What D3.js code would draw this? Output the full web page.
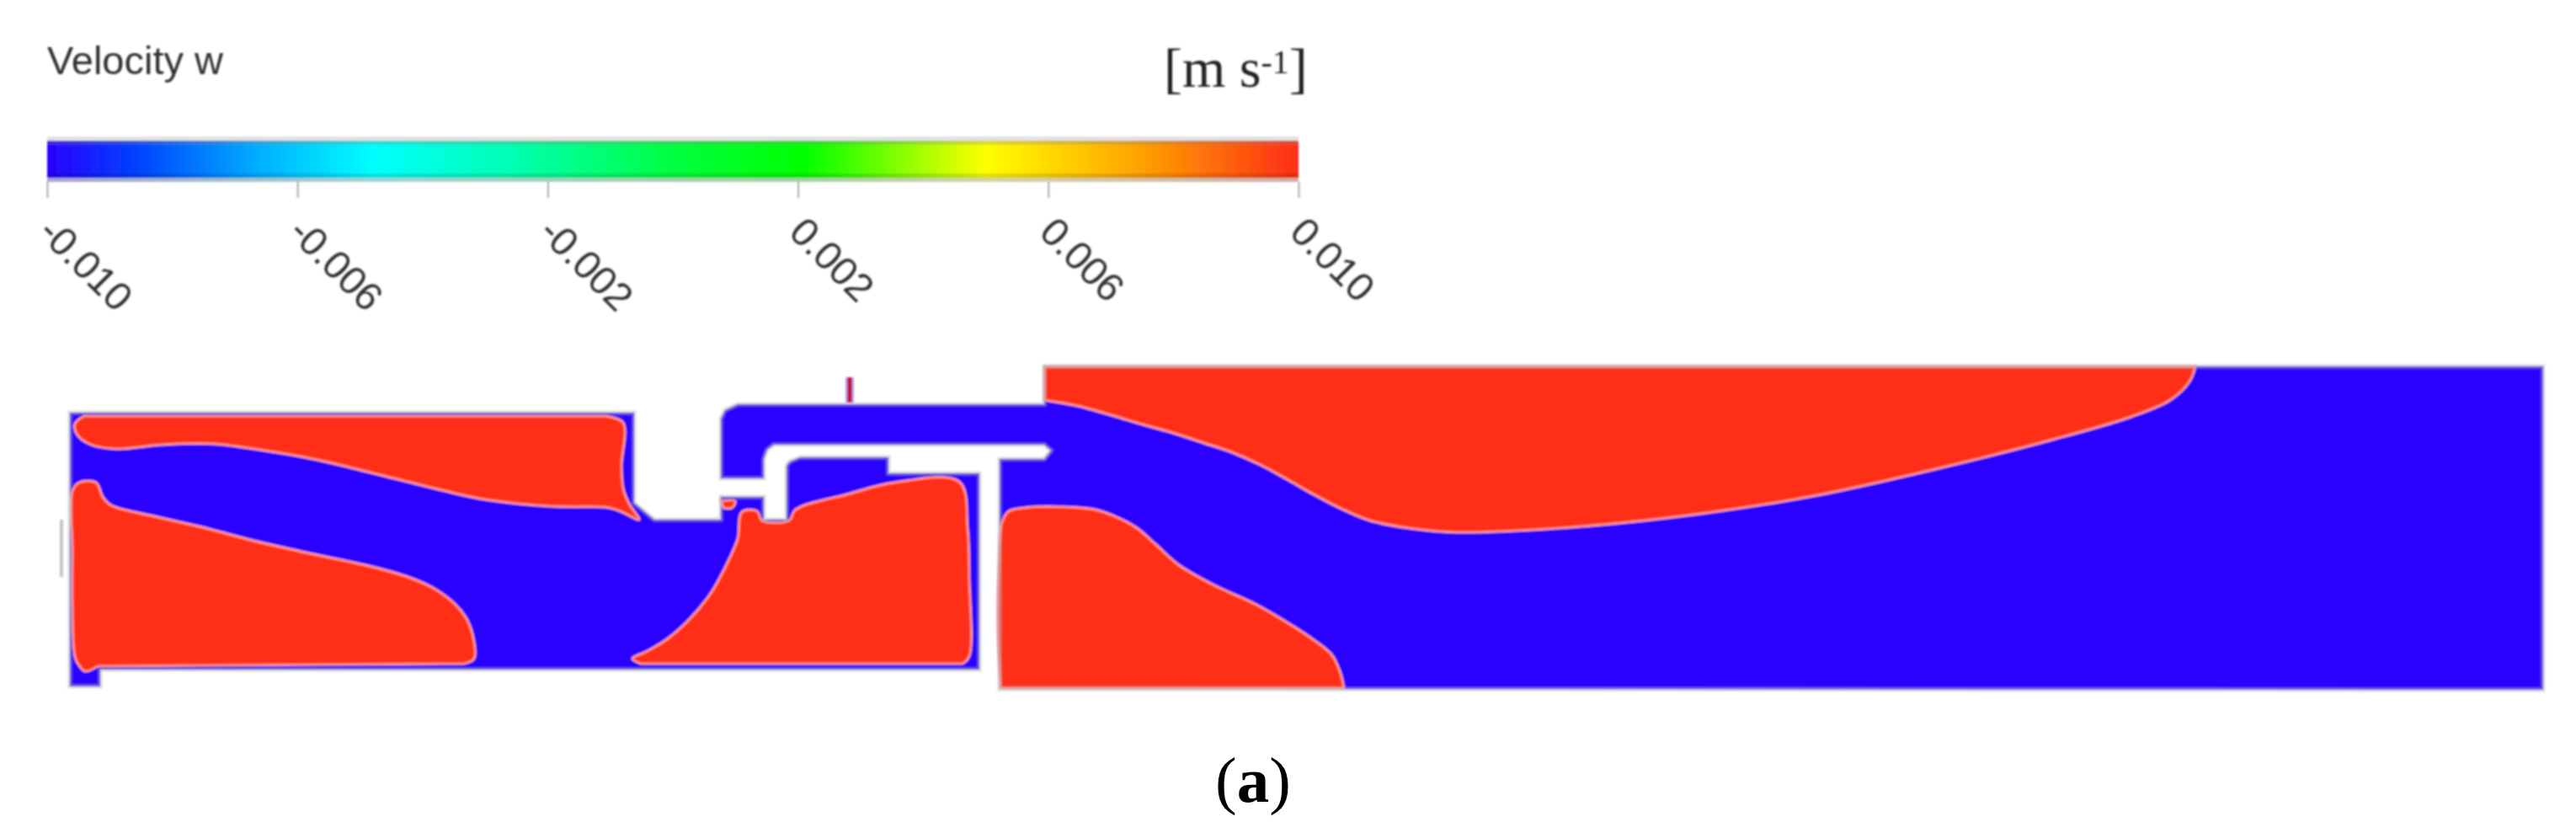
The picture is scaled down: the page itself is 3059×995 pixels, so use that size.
<!DOCTYPE html>
<html><head><meta charset="utf-8">
<script src="https://cdn.jsdelivr.net/npm/d3@7/dist/d3.min.js"></script>
<style>html,body{margin:0;background:#fff;overflow:hidden}svg{display:block}</style>
</head><body>
<script>
const barTicks=[-0.010,-0.006,-0.002,0.002,0.006,0.010];
const barStops=[[-0.010,"#2a00ff"],[-0.0086,"#0040ff"],[-0.0066,"#00b0ff"],[-0.0048,"#00ffff"],[-0.0025,"#00ffb0"],[0,"#00ff40"],[0.0021,"#00ff00"],[0.005,"#ffff00"],[0.0075,"#ffa000"],[0.010,"#ff2d16"]];
const fluidLower=[[0,329],[670,329],[670,222],[694,202],[773,202],[773,229],[824,229],[824,202],[851,202],[851,266],[855,271],[867,276],[972,276],[972,257],[1080,257],[1080,24],[36,24],[36,4],[0,4]];
const fluidUpper=[[773,251],[773,322],[778,332],[793,339],[1157,339],[1157,384],[2937,384],[2937,0],[1104,1],[1104,274],[1157,274],[1165,284],[1157,291],[836,291],[828,285],[824,274],[824,251]];
const zoneA=[[636,325],[657,317],[655,266],[657,239],[664,221],[676,202],[656,211],[641,216],[569,218],[493,226],[442,237],[365,256],[289,274],[212,287],[171,292],[110,291],[54,286],[23,292],[8,304],[6,316],[17,325]];
const zoneB=[[33,28],[18,22],[11,29],[6,39],[3,99],[3,166],[3,236],[11,246],[31,246],[39,229],[49,219],[100,206],[161,192],[222,176],[289,161],[355,147],[401,134],[431,121],[457,102],[470,86],[478,66],[480,37],[467,31]];
const zoneC=[[678,31],[668,37],[686,46],[709,60],[737,85],[762,116],[780,149],[793,179],[798,211],[816,212],[822,201],[854,201],[862,214],[923,232],[979,246],[1056,247],[1066,192],[1068,132],[1068,40],[1060,31]];
const zoneD=[[1513,2],[1508,22],[1498,42],[1473,62],[1437,85],[1407,102],[1357,125],[1317,148],[1290,172],[1267,192],[1243,205],[1217,214],[1183,217],[1133,216],[1115,212],[1107,199],[1103,149],[1102,66],[1105,2]];
const zoneE=[[1157,344],[1197,337],[1237,326],[1274,315],[1310,305],[1347,293],[1380,282],[1414,267],[1447,249],[1477,232],[1510,215],[1544,201],[1597,191],[1647,187],[1796,194],[1936,209],[2075,231],[2215,262],[2354,297],[2447,324],[2494,344],[2517,366],[2524,384]];
const wallE=[[1157,384]];
const zoneSpot=[[773,224],[790,224],[786,216],[776,216]];
const probe=[[926,341],[926,371]];
const wallStub=[[-10,202],[-10,134]];

const W=3059,H=995;
const svg=d3.select("body").append("svg").attr("width",W).attr("height",H).style("font-family","'Liberation Sans'");
const defs=svg.append("defs");
defs.append("filter").attr("id","soft").attr("x","-5%").attr("y","-5%").attr("width","110%").attr("height","110%")
  .append("feGaussianBlur").attr("stdDeviation",1.3);
const xBar=d3.scaleLinear().domain([-0.010,0.010]).range([56,1542]);
const grad=defs.append("linearGradient").attr("id","bar");
grad.selectAll("stop").data(barStops).join("stop")
  .attr("offset",d=>((xBar(d[0])-56)/1486*100)+"%").attr("stop-color",d=>d[1]);

const root=svg.append("g").attr("filter","url(#soft)");
// title
root.append("text").attr("x",56).attr("y",88).attr("font-size",47).attr("fill","#333").text("Velocity w");
const unit=root.append("text").attr("x",1382).attr("y",103).attr("font-size",66).attr("fill","#222").style("font-family","'Liberation Serif'");
unit.append("tspan").text("[m s");
unit.append("tspan").attr("font-size",40).attr("dy",-16).text("-1");
unit.append("tspan").attr("dy",16).text("]");
// colour bar
root.append("rect").attr("x",56).attr("y",167).attr("width",1486).attr("height",44).attr("fill","url(#bar)");
root.append("rect").attr("x",56).attr("y",162).attr("width",1486).attr("height",5).attr("fill","#e2e2e2");
root.append("rect").attr("x",56).attr("y",167).attr("width",1486).attr("height",5).attr("fill","#888").attr("opacity",.3);
root.append("rect").attr("x",56).attr("y",206).attr("width",1486).attr("height",5).attr("fill","#000").attr("opacity",.12);
root.append("rect").attr("x",56).attr("y",211).attr("width",1486).attr("height",5).attr("fill","url(#bar)").attr("opacity",.4);
root.append("rect").attr("x",56).attr("y",211).attr("width",1486).attr("height",5).attr("fill","#aaa").attr("opacity",.5);
const axis=root.append("g").attr("transform","translate(0,216)")
  .call(d3.axisBottom(xBar).tickValues(barTicks).tickFormat(d3.format(".3f")).tickSize(19).tickSizeOuter(0));
axis.select(".domain").remove();
axis.selectAll("line").attr("stroke","#aaa").attr("stroke-width",2);
axis.selectAll("text").attr("font-size",47).attr("fill","#333").attr("text-anchor","start").attr("dy",0)
  .attr("transform","translate(-13,62) rotate(45)").attr("y",0).attr("x",0)
  .style("font-family","'Liberation Sans'").text(d=>d3.format(".3f")(d).replace("−","-"));
// field
const xF=d3.scaleLinear().domain([0,2937]).range([83,3020]);
const yF=d3.scaleLinear().domain([0,384]).range([819,435]);
const straight=d3.line().x(d=>xF(d[0])).y(d=>yF(d[1])).curve(d3.curveLinearClosed);
const seg=d3.line().x(d=>xF(d[0])).y(d=>yF(d[1]));
const smooth=d3.line().x(d=>xF(d[0])).y(d=>yF(d[1])).curve(d3.curveCatmullRom.alpha(.5));
const BLUE="#2a00ff",RED="#ff2d16";
const field=root.append("g");
field.selectAll("path.f").data([fluidLower,fluidUpper]).join("path").attr("class","f").attr("d",straight).attr("fill",BLUE);
field.selectAll("path.z").data([zoneA,zoneB,zoneC,zoneD,zoneSpot]).join("path").attr("class","z").attr("d",d=>smooth(d)+"Z")
  .attr("fill",RED).attr("stroke","#ff8f90").attr("stroke-width",3);
field.append("path").datum(zoneE).attr("d",d=>smooth(d)+seg(wallE).replace("M","L").replace("Z","")+"Z").attr("fill",RED).attr("stroke","#ff8f90").attr("stroke-width",3);
field.selectAll("path.o").data([fluidLower,fluidUpper]).join("path").attr("class","o").attr("d",straight)
  .attr("fill","none").attr("stroke","#b8b8b8").attr("stroke-width",5).attr("opacity",.5);
field.append("path").datum(probe).attr("d",seg).attr("stroke","#b8a0e0").attr("stroke-width",10);
field.append("path").datum(probe).attr("d",seg).attr("stroke","#c00040").attr("stroke-width",5);
field.append("path").datum(wallStub).attr("d",seg).attr("stroke","#c4c4c4").attr("stroke-width",4);
// caption
const cap=svg.append("text").attr("x",1488).attr("y",952).attr("text-anchor","middle").attr("font-size",77).attr("fill","#000").style("font-family","'Liberation Serif'");
cap.append("tspan").text("(");cap.append("tspan").attr("font-weight","bold").text("a");cap.append("tspan").text(")");
</script>
</body></html>
